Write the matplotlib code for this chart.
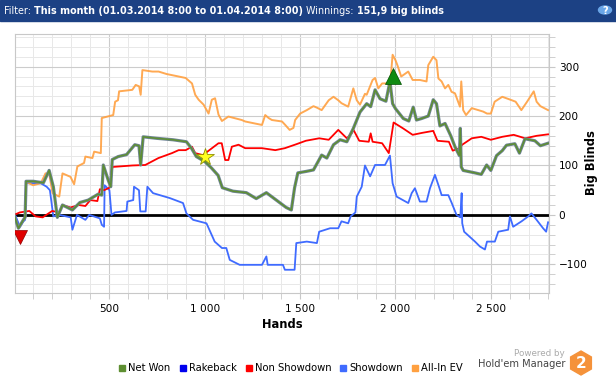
import matplotlib.pyplot as plt
from matplotlib.patches import Rectangle, Circle, RegularPolygon
from matplotlib.lines import Line2D
from matplotlib.ticker import MultipleLocator, FuncFormatter

# data (hands, big blinds)
net_hands = [0, 10, 23, 49, 58, 63, 101, 154, 184, 206, 227, 254, 306, 345, 389, 441, 460,
             468, 494, 507, 515, 546, 590, 633, 655, 664, 677, 747, 834, 904, 930, 956, 1000,
             1035, 1070, 1092, 1148, 1218, 1270, 1323, 1375, 1427, 1454, 1471, 1488, 1532,
             1570, 1613, 1640, 1675, 1710, 1745, 1779, 1814, 1849, 1870, 1893, 1919, 1950,
             1971, 1985, 2000, 2041, 2070, 2093, 2110, 2137, 2172, 2198, 2215, 2233, 2260,
             2290, 2312, 2335, 2340, 2345, 2355, 2417, 2450, 2478, 2500, 2530, 2560, 2582,
             2626, 2650, 2679, 2731, 2760, 2800]
net_won = [0, -12, -27, -10, -5, 68, 68, 65, 90, 57, -5, 20, 10, 25, 30, 42, 40,
           101, 70, 57, 112, 118, 122, 142, 140, 101, 158, 155, 152, 148, 135, 118, 108,
           95, 80, 55, 48, 45, 33, 45, 30, 15, 10, 55, 85, 88,
           91, 121, 115, 142, 152, 148, 175, 208, 225, 219, 253, 235, 230,
           270, 225, 215, 195, 190, 218, 192, 195, 200, 233, 225, 180, 185,
           160, 138, 120, 175, 97, 90, 85, 82, 101, 90, 120, 130, 141,
           144, 125, 154, 150, 140, 145]

nsd_hands = [0, 30, 80, 113, 150, 200, 237, 254, 296, 340, 374, 400, 437, 450, 472, 500,
             516, 551, 620, 688, 757, 828, 863, 900, 933, 950, 990, 1072, 1089, 1107, 1124,
             1142, 1177, 1212, 1282, 1300, 1370, 1420, 1480, 1530, 1600, 1650, 1700, 1745,
             1770, 1780, 1810, 1860, 1870, 1880, 1930, 1965, 1990, 2040, 2090, 2140, 2198,
             2220, 2280, 2300, 2335, 2350, 2400, 2450, 2500, 2560, 2620, 2680, 2740, 2800]
non_showdown = [0, 5, 8, -3, -5, 8, 5, 20, 15, 20, 18, 30, 28, 52, 50, 55,
                97, 98, 100, 101, 115, 125, 131, 131, 138, 125, 121, 145, 145, 111, 111,
                138, 142, 135, 135, 135, 131, 135, 143, 150, 155, 152, 172, 155,
                165, 172, 150, 148, 165, 148, 145, 125, 187, 175, 162, 166, 170,
                150, 148, 130, 135, 142, 155, 158, 152, 158, 162, 155, 160, 163]

sd_hands = [0, 9, 31, 49, 58, 63, 140, 171, 188, 206, 237, 297, 306, 330, 374, 394, 450,
            460, 472, 475, 500, 511, 529, 590, 594, 625, 629, 655, 662, 690, 699, 729, 817,
            886, 904, 939, 1009, 1052, 1090, 1113, 1131, 1183, 1300, 1323, 1330, 1410,
            1420, 1471, 1480, 1535, 1588, 1600, 1657, 1700, 1717, 1752, 1765, 1790, 1797,
            1823, 1840, 1867, 1893, 1945, 1971, 1985, 2006, 2067, 2085, 2102, 2128, 2163,
            2181, 2207, 2228, 2242, 2277, 2294, 2320, 2340, 2347, 2350, 2360, 2417, 2443,
            2469, 2480, 2521, 2539, 2591, 2600, 2617, 2661, 2696, 2713, 2740, 2774, 2790, 2800]
showdown = [0, -3, -24, -13, -10, 64, 64, 57, 50, -3, 0, -5, -30, 0, -10, 0, -7,
            -20, -24, 60, 50, 0, 5, 8, 27, 30, 57, 50, 7, 7, 57, 44, 34,
            24, 3, -10, -17, -54, -67, -67, -91, -101, -101, -84, -101, -101,
            -111, -111, -57, -54, -57, -34, -27, -27, -13, -17, -3, 5, 37,
            57, 100, 78, 101, 101, 120, 64, 37, 24, 44, 54, 27, 27,
            54, 81, 57, 40, 40, 25, 0, -5, 44, -17, -34, -54, -64,
            -70, -54, -54, -34, -30, -3, -24, -13, -3, 3, -10, -27, -34, -15]

ev_hands = [0, 10, 23, 49, 58, 63, 100, 140, 165, 184, 202, 237, 254, 296, 315, 332, 367,
            374, 411, 420, 455, 460, 520, 530, 545, 551, 620, 638, 656, 664, 673, 725, 758,
            800, 863, 900, 933, 950, 968, 994, 1020, 1037, 1054, 1072, 1090, 1124, 1194,
            1212, 1300, 1317, 1335, 1352, 1405, 1422, 1445, 1465, 1474, 1500, 1535, 1570,
            1588, 1613, 1650, 1675, 1700, 1717, 1752, 1779, 1797, 1814, 1840, 1849, 1880,
            1893, 1910, 1930, 1962, 1970, 1985, 2000, 2010, 2030, 2067, 2090, 2128, 2163,
            2172, 2198, 2215, 2225, 2242, 2260, 2277, 2294, 2312, 2338, 2345, 2355, 2370,
            2400, 2460, 2480, 2500, 2520, 2560, 2610, 2630, 2660, 2690, 2725, 2740, 2760,
            2780, 2800]
all_in_ev = [0, -12, -27, -10, -5, 67, 60, 64, 84, 84, 44, 37, 84, 77, 62, 98, 105,
             118, 115, 128, 125, 196, 202, 229, 232, 250, 253, 263, 260, 243, 293, 290, 290,
             285, 280, 277, 266, 243, 233, 223, 205, 233, 236, 203, 190, 199, 192,
             189, 182, 202, 196, 192, 189, 182, 172, 176, 192, 205, 212, 220,
             217, 212, 232, 239, 232, 226, 219, 256, 232, 223, 245, 243, 273,
             277, 256, 266, 266, 255, 324, 313, 303, 280, 290, 273, 273, 270,
             303, 320, 313, 276, 270, 256, 263, 249, 246, 219, 270, 212, 202,
             216, 209, 205, 205, 229, 239, 232, 229, 212, 229, 250, 229, 220,
             216, 212]

c_net, c_rb, c_nsd, c_sd, c_ev = '#5e8f32', '#0000ee', '#ff0000', '#3f6bff', '#ffa040'

fig = plt.figure(figsize=(6.16, 3.8), dpi=100)
W, H = 616, 380

# header bar
fig.patches.append(Rectangle((0, 1 - 21 / H), 1, 21 / H, transform=fig.transFigure,
                             color='#1c4184', zorder=0))
runs = [('Filter: ', 'normal'), ('This month (01.03.2014 8:00 to 01.04.2014 8:00) ', 'bold'),
        ('Winnings: ', 'normal'), ('151,9 big blinds', 'bold')]
renderer = fig.canvas.get_renderer()
x0 = 4 / W
for s, w in runs:
    t = fig.text(x0, 1 - 10.5 / H, s, color='white', fontsize=6.9, fontweight=w,
                 va='center', ha='left')
    x0 = t.get_window_extent(renderer).x1 / W
fig.patches.append(Circle((605 / W, 1 - 10 / H), 6.5 / W, transform=fig.transFigure,
                          color='#6aa6e8', zorder=1))
fig.text(605 / W, 1 - 10.5 / H, '?', color='white', fontsize=7, fontweight='bold',
         ha='center', va='center')

ax = fig.add_axes([15 / W, 1 - 293 / H, 534 / W, 259 / H])

ax.plot(sd_hands, showdown, color=c_sd, lw=1.3, zorder=3)
ax.plot(ev_hands, all_in_ev, color=c_ev, lw=1.4, alpha=0.9, zorder=3)
ax.plot(nsd_hands, non_showdown, color=c_nsd, lw=1.3, zorder=4)
ax.plot(net_hands, net_won, color='#6f8496', lw=2.3, zorder=5)
ax.plot(net_hands, net_won, color=c_net, lw=1.1, zorder=6)
ax.axhline(0, color='black', lw=2, zorder=2)

ax.plot([30], [-45], marker='v', ms=10, color='#e00000', mec='#900000', mew=0.5, zorder=7)
ax.plot([1987], [281], marker='^', ms=11, color='#108a10', mec='#005000', mew=0.5, zorder=7)
ax.plot([1002], [118], marker='*', ms=13, color='#ffff20', mec='#909000', mew=0.6, zorder=7)

ax.set_xlim(5, 2805)
ax.set_ylim(-158, 366)
ax.xaxis.set_major_locator(MultipleLocator(500))
ax.xaxis.set_minor_locator(MultipleLocator(100))
ax.yaxis.set_major_locator(MultipleLocator(100))
ax.yaxis.set_minor_locator(MultipleLocator(20))
ax.xaxis.set_major_formatter(FuncFormatter(lambda v, p: f'{int(v):,}'.replace(',', ' ')))
ax.yaxis.tick_right()
ax.grid(which='major', color='#cccccc', lw=0.8)
ax.grid(which='minor', color='#e8e8e8', lw=0.7)
ax.set_axisbelow(True)
ax.tick_params(which='both', direction='out', color='#c8c8c8', labelsize=7.6, left=False)
ax.tick_params(which='major', length=4)
ax.tick_params(which='minor', length=4)
ax.tick_params(axis='y', pad=3)
ax.tick_params(axis='x', pad=4)
for sp in ax.spines.values():
    sp.set_color('#c8c8c8')
fig.text(282 / W, 1 - 325 / H, 'Hands', fontsize=8.3, fontweight='bold',
         ha='center', va='center')
fig.text(592 / W, 1 - 163 / H, 'Big Blinds', fontsize=8.3, fontweight='bold',
         rotation=90, ha='center', va='center')

handles = [Line2D([], [], marker='s', ls='', color=c, ms=5)
           for c in (c_net, c_rb, c_nsd, c_sd, c_ev)]
fig.legend(handles, ['Net Won', 'Rakeback', 'Non Showdown', 'Showdown', 'All-In EV'],
           loc='center', bbox_to_anchor=(290 / W, 1 - 368 / H), ncol=5, frameon=False,
           fontsize=7.2, handletextpad=0.1, columnspacing=0.7, handlelength=1)

fig.text(565 / W, 1 - 354 / H, 'Powered by', color='#aaaaaa', fontsize=6.3, ha='right',
         va='center')
fig.text(565 / W, 1 - 364 / H, "Hold'em Manager", color='#444444', fontsize=7.1,
         ha='right', va='center')
fig.patches.append(RegularPolygon((5.81, 3.8 - 3.63), 6, radius=0.12,
                                  transform=fig.dpi_scale_trans, color='#f5923a'))
fig.text(581 / W, 1 - 364 / H, '2', color='white', fontsize=11, fontweight='bold',
         ha='center', va='center')

fig.savefig('out.png', dpi=100)
